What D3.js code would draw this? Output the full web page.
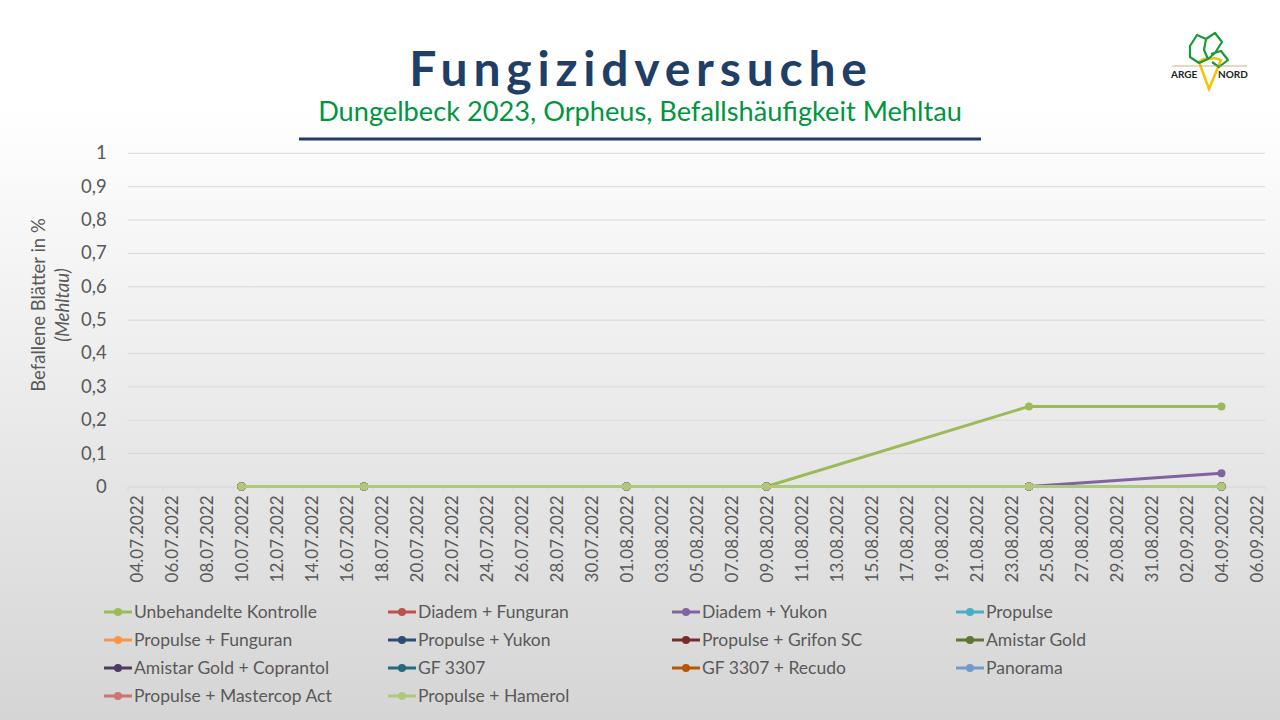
<!DOCTYPE html>
<html>
<head>
<meta charset="utf-8">
<script src="https://cdn.jsdelivr.net/npm/d3@7"></script>
<style>
  body { margin: 0; }
  svg { display: block; font-family: Lato, "Open Sans", sans-serif; }
</style>
</head>
<body>
<div id="chart"></div>
<script>
// Messtermine
const dates = ["10.07.2022", "17.07.2022", "01.08.2022", "09.08.2022", "24.08.2022", "04.09.2022"];

const seriesNames = [
  "Unbehandelte Kontrolle", "Diadem + Funguran", "Diadem + Yukon", "Propulse",
  "Propulse + Funguran", "Propulse + Yukon", "Propulse + Grifon SC", "Amistar Gold",
  "Amistar Gold + Coprantol", "GF 3307", "GF 3307 + Recudo", "Panorama",
  "Propulse + Mastercop Act", "Propulse + Hamerol"
];

const seriesColors = [
  "#9bbb59", "#c0504d", "#8064a2", "#4bacc6",
  "#f79646", "#2c4d75", "#772c2a", "#5f7530",
  "#4d3b62", "#276a7c", "#b65708", "#729aca",
  "#cd7371", "#afc97a"
];

// Befallshäufigkeit je Variante
const seriesValues = [
  [0, 0, 0, 0, 0.24, 0.24],
  [0, 0, 0, 0, 0, 0],
  [0, 0, 0, 0, 0, 0.04],
  [0, 0, 0, 0, 0, 0],
  [0, 0, 0, 0, 0, 0],
  [0, 0, 0, 0, 0, 0],
  [0, 0, 0, 0, 0, 0],
  [0, 0, 0, 0, 0, 0],
  [0, 0, 0, 0, 0, 0],
  [0, 0, 0, 0, 0, 0],
  [0, 0, 0, 0, 0, 0],
  [0, 0, 0, 0, 0, 0],
  [0, 0, 0, 0, 0, 0],
  [0, 0, 0, 0, 0, 0]
];

const axisStart = "04.07.2022";
const axisEnd = "07.09.2022";
const yTicks = [0, 0.1, 0.2, 0.3, 0.4, 0.5, 0.6, 0.7, 0.8, 0.9, 1];

const W = 1280, H = 720;
const parse = d3.timeParse("%d.%m.%Y");
const fmt = d3.timeFormat("%d.%m.%Y");
const de = d3.formatLocale({ decimal: ",", thousands: ".", grouping: [3], currency: ["", " €"] });
const yFmt = de.format("~g");

const svg = d3.select("#chart").append("svg")
  .attr("width", W)
  .attr("height", H);

// Hintergrund
const grad = svg.append("defs").append("linearGradient")
  .attr("id", "bg").attr("x1", 0).attr("y1", 0).attr("x2", 0).attr("y2", 1);
grad.append("stop").attr("offset", "0%").attr("stop-color", "#ffffff");
grad.append("stop").attr("offset", "15%").attr("stop-color", "#ffffff");
grad.append("stop").attr("offset", "100%").attr("stop-color", "#d5d5d5");
svg.append("rect").attr("width", W).attr("height", H).attr("fill", "url(#bg)");

// Titel
svg.append("text")
  .attr("x", 641).attr("y", 86)
  .attr("text-anchor", "middle")
  .attr("font-size", 48).attr("font-weight", 700)
  .attr("letter-spacing", 5.8)
  .attr("fill", "#1f3f66")
  .text("Fungizidversuche");

svg.append("text")
  .attr("x", 640).attr("y", 121)
  .attr("text-anchor", "middle")
  .attr("font-size", 27.2)
  .attr("fill", "#00963f")
  .text("Dungelbeck 2023, Orpheus, Befallshäufigkeit Mehltau");

svg.append("line")
  .attr("x1", 299).attr("x2", 981).attr("y1", 139).attr("y2", 139)
  .attr("stroke", "#1f3f66").attr("stroke-width", 3);

// Logo
const logo = svg.append("g").attr("transform", "translate(1170,32)");
logo.append("path")
  .attr("d", "M29,30 L39,57 L51,28 Q45,25 40,27 Q34,25 29,30 Z")
  .attr("fill", "none").attr("stroke", "#f2c500").attr("stroke-width", 2.5);
logo.append("path")
  .attr("d", "M20,14 L27,3 L36,7 L34,18 L38,27 L29,31 L20,25 Z M36,7 L45,1 L52,10 L45,21 L38,27 M41,22 L51,19 L58,28 L49,35 L42,30")
  .attr("fill", "none").attr("stroke", "#1a9a3a").attr("stroke-width", 2.2)
  .attr("stroke-linejoin", "round");
logo.append("line")
  .attr("x1", 2).attr("x2", 77).attr("y1", 34).attr("y2", 34)
  .attr("stroke", "#c89a6a").attr("stroke-width", 0.8);
logo.append("text").attr("x", 1).attr("y", 46)
  .attr("font-size", 10).attr("font-weight", 700).attr("fill", "#222")
  .text("ARGE");
logo.append("text").attr("x", 48).attr("y", 46)
  .attr("font-size", 10).attr("font-weight", 700).attr("fill", "#222")
  .text("NORD");

// Skalen
const plotL = 127.7, plotR = 1265.2, plotT = 152.8, plotB = 486.5;
const x = d3.scaleTime()
  .domain([parse(axisStart), parse(axisEnd)])
  .range([plotL, plotR]);
const y = d3.scaleLinear().domain([0, 1]).range([plotB, plotT]);
const halfDay = (x(parse("05.07.2022")) - x(parse("04.07.2022"))) / 2;

// Y-Achse mit Gitternetz
const yAxis = svg.append("g")
  .attr("transform", `translate(${plotL},0)`)
  .call(d3.axisLeft(y).tickValues(yTicks).tickFormat(yFmt)
    .tickSize(-(plotR - plotL)).tickPadding(21));
yAxis.select(".domain").remove();
yAxis.selectAll(".tick line").attr("stroke", "#d9d9d9");
yAxis.selectAll(".tick text")
  .attr("font-size", 18.5).attr("fill", "#595959")
  .attr("font-family", "Lato, sans-serif");

// X-Achse
const xTicks = d3.timeDay.range(parse(axisStart), parse(axisEnd)).filter((d, i) => i % 2 === 0);
const xAxis = svg.append("g")
  .attr("transform", `translate(0,${plotB})`)
  .call(d3.axisBottom(x).tickValues(xTicks).tickFormat(fmt).tickSize(5));
xAxis.select(".domain").attr("stroke", "#d9d9d9");
xAxis.selectAll(".tick line").attr("stroke", "#d9d9d9");
xAxis.selectAll(".tick text")
  .attr("font-size", 17).attr("fill", "#595959")
  .attr("font-family", "Lato, sans-serif")
  .attr("text-anchor", "end")
  .attr("transform", `translate(${halfDay},0) rotate(-90)`)
  .attr("x", -9).attr("y", 0).attr("dy", "0.35em");

// Achsentitel
const yTitle = svg.append("text")
  .attr("transform", "translate(45,305) rotate(-90)")
  .attr("text-anchor", "middle")
  .attr("fill", "#595959");
yTitle.append("tspan").attr("x", 0).attr("y", 0).attr("font-size", 18.5)
  .text("Befallene Blätter in %");
yTitle.append("tspan").attr("x", 0).attr("y", 24).attr("font-size", 18.5)
  .attr("font-style", "italic")
  .text("(Mehltau)");

// Linien
const series = seriesNames.map((name, i) => ({
  name,
  color: seriesColors[i],
  points: dates.map((d, j) => ({ date: d3.timeHour.offset(parse(d), 12), value: seriesValues[i][j] }))
}));

const line = d3.line().x(d => x(d.date)).y(d => y(d.value));

const g = svg.append("g");
series.forEach(s => {
  g.append("path")
    .datum(s.points)
    .attr("fill", "none")
    .attr("stroke", s.color)
    .attr("stroke-width", 3)
    .attr("stroke-linejoin", "round")
    .attr("d", line);
  g.selectAll(null)
    .data(s.points)
    .enter()
    .append("circle")
    .attr("cx", d => x(d.date))
    .attr("cy", d => y(d.value))
    .attr("r", 4)
    .attr("fill", s.color);
});

// Legende
const legX = [104, 388, 672, 956];
const legY = [612, 640, 668, 696];
const legend = svg.append("g");
seriesNames.forEach((name, i) => {
  const lx = legX[i % 4], ly = legY[Math.floor(i / 4)];
  legend.append("line")
    .attr("x1", lx).attr("x2", lx + 28).attr("y1", ly).attr("y2", ly)
    .attr("stroke", seriesColors[i]).attr("stroke-width", 3);
  legend.append("circle")
    .attr("cx", lx + 14).attr("cy", ly).attr("r", 4)
    .attr("fill", seriesColors[i]);
  legend.append("text")
    .attr("x", lx + 30).attr("y", ly).attr("dy", "0.35em")
    .attr("font-size", 17.5).attr("fill", "#595959")
    .text(name);
});
</script>
</body>
</html>
